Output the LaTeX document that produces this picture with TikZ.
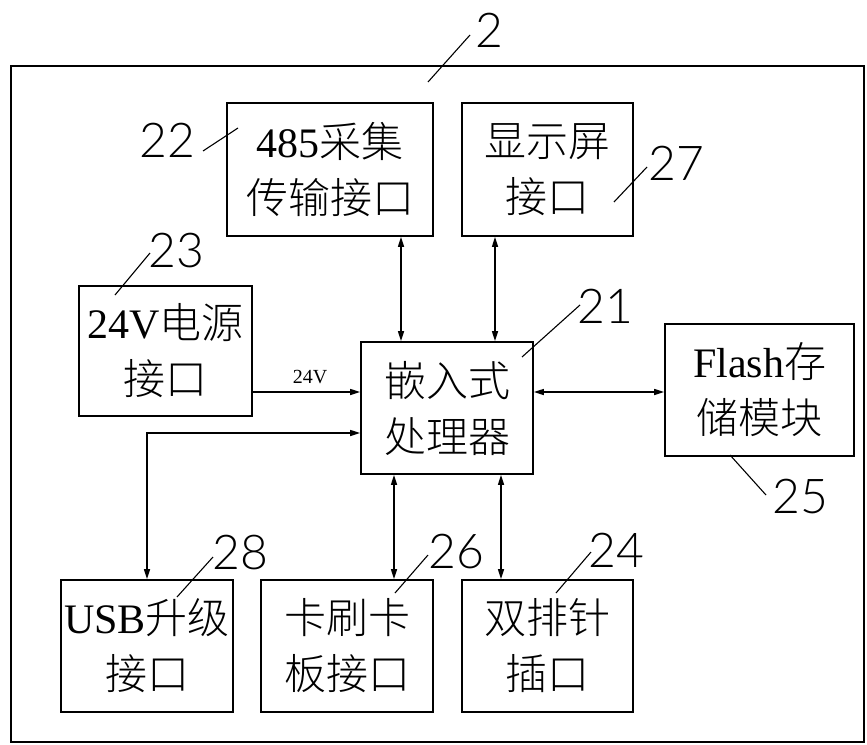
\documentclass[tikz,border=0pt]{standalone}
\usepackage{fontspec}
\usetikzlibrary{arrows.meta}
\IfFontExistsTF{Noto Sans CJK SC Light}{\newfontfamily\cjk{Noto Sans CJK SC Light}}{\newfontfamily\cjk{Noto Sans CJK SC}}
\newfontfamily\lat{Liberation Serif}
\IfFontExistsTF{Lato Light}{\newfontfamily\numf{Lato Light}}{\newfontfamily\numf{Lato}}
\tikzset{
  box/.style={draw, line width=1.8pt, inner sep=0pt, align=center, font=\cjk\fontsize{42}{56}\selectfont},
  conn/.style={line width=1.4pt, {Triangle[length=10pt,width=6pt]}-{Triangle[length=10pt,width=6pt]}},
  one/.style={line width=1.4pt, -{Triangle[length=10pt,width=6pt]}},
  lead/.style={line width=1.1pt},
  num/.style={font=\numf\fontsize{48}{48}\selectfont, inner sep=0pt},
  small/.style={font=\lat\fontsize{20}{20}\selectfont, inner sep=0pt}
}
\begin{document}
\begin{tikzpicture}[x=1pt,y=-1pt]
\useasboundingbox (0,0) rectangle (867,744);
\fill[white] (0,0) rectangle (867,744);
% outer frame
\draw[line width=1.8pt] (11,66) rectangle (864,742);
% boxes
\node[box, minimum width=206pt, minimum height=133pt] (b22) at (330,169.5) {{\lat 485}采集\\传输接口};
\node[box, minimum width=171pt, minimum height=133pt] (b27) at (547.5,169.5) {显示屏\\接口};
\node[box, minimum width=173pt, minimum height=130pt] (b23) at (165.5,351) {{\lat 24V}电源\\接口};
\node[box, minimum width=172pt, minimum height=132pt] (b21) at (447,408) {嵌入式\\处理器};
\node[box, minimum width=189pt, minimum height=132pt] (b25) at (759.5,390) {{\lat Flash}存\\储模块};
\node[box, minimum width=172pt, minimum height=132pt] (b28) at (147,646) {{\lat USB}升级\\接口};
\node[box, minimum width=172pt, minimum height=132pt] (b26) at (347,646) {卡刷卡\\板接口};
\node[box, minimum width=171pt, minimum height=132pt] (b24) at (547.5,646) {双排针\\插口};
% connector helper coordinates
\coordinate (xA) at (401,0);
\coordinate (xB) at (495,0);
\coordinate (xC) at (394,0);
\coordinate (xD) at (501,0);
\coordinate (yP) at (0,392);
\coordinate (yU) at (0,433);
% connectors
\draw[conn] (b22.south -| xA) -- (b21.north -| xA);
\draw[conn] (b27.south -| xB) -- (b21.north -| xB);
\draw[one] (b23.east |- yP) -- (b21.west |- yP);
\node[small] (v24) at (310,377) {24V};
\draw[conn] (b21.east |- yP) -- (b25.west |- yP);
\draw[conn] (b21.west |- yU) -| (b28.north);
\draw[conn] (b21.south -| xC) -- (b26.north -| xC);
\draw[conn] (b21.south -| xD) -- (b24.north -| xD);
% reference numbers
\node[num] (n2) at (489,30) {2};
\node[num] (n22) at (167,140) {22};
\node[num] (n27) at (676,163) {27};
\node[num] (n23) at (176,251) {23};
\node[num] (n21) at (605,306) {21};
\node[num] (n25) at (800,497) {25};
\node[num] (n28) at (240,553) {28};
\node[num] (n26) at (456,552) {26};
\node[num] (n24) at (616,550) {24};
% leader lines
\coordinate (a2) at (428,82);   \coordinate (e2) at (470,35);
\coordinate (a22) at (238,128); \coordinate (e22) at (203,151);
\coordinate (a27) at (614,202); \coordinate (e27) at (647,167);
\coordinate (a23) at (115,295); \coordinate (e23) at (150,253);
\coordinate (a21) at (522,357); \coordinate (e21) at (580,305);
\coordinate (a25) at (730,455); \coordinate (e25) at (766,495);
\coordinate (a28) at (177,597); \coordinate (e28) at (213,557);
\coordinate (a26) at (395,593); \coordinate (e26) at (428,555);
\coordinate (a24) at (556,593); \coordinate (e24) at (591,552);
\foreach \n in {2,22,27,23,21,25,28,26,24} {\draw[lead] (a\n) -- (e\n);}
\end{tikzpicture}
\end{document}
